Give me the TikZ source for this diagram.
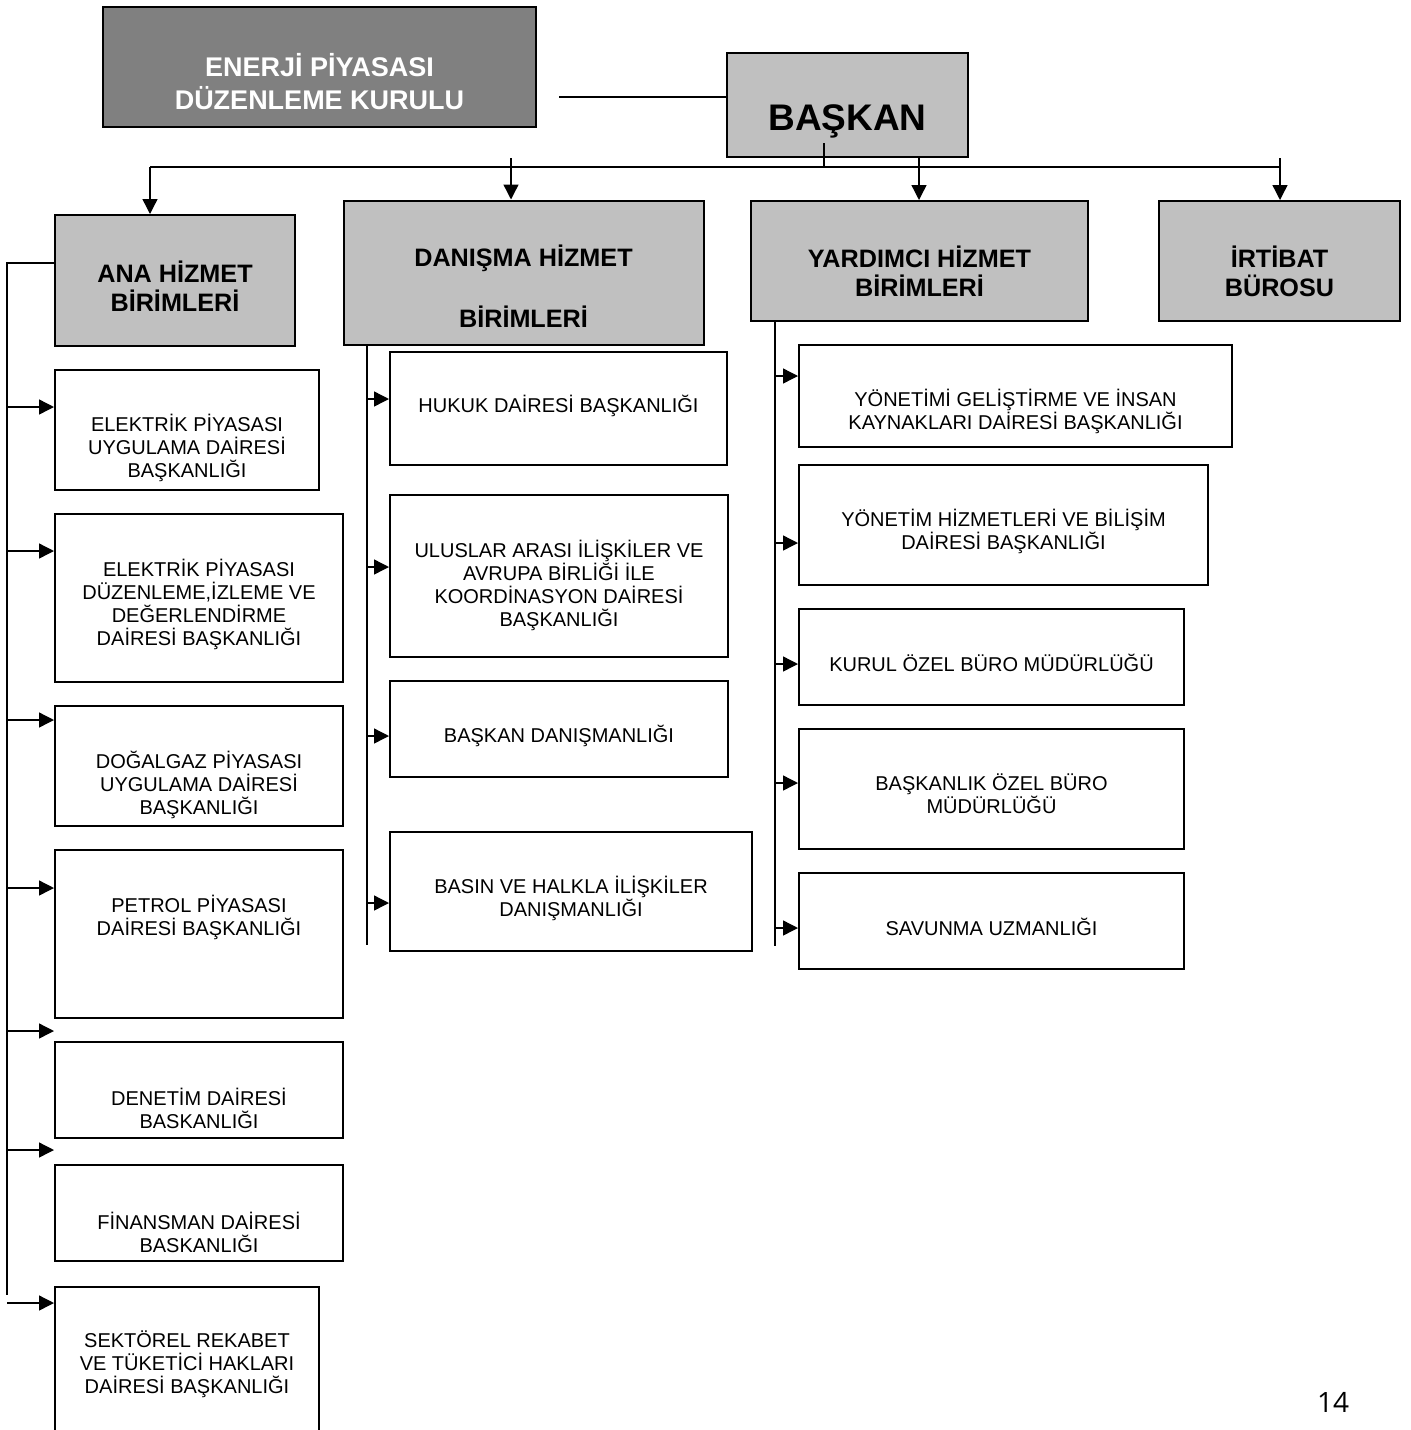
\documentclass[tikz,border=0pt]{standalone}
\usepackage{fontspec}
\setmainfont{Liberation Sans}
\newfontfamily\pagefont{Open Sans}
\usetikzlibrary{arrows.meta}
\definecolor{boxgrey}{RGB}{192,192,192}
\definecolor{titlegrey}{RGB}{128,128,128}

\begin{document}
\begin{tikzpicture}[x=0.5pt, y=-0.5pt,
  unitbox/.style={draw, line width=1pt, inner sep=0pt},
  headbox/.style={unitbox, fill=boxgrey},
  unittext/.style={align=center, inner sep=0pt, font=\fontsize{10}{11.5}\selectfont},
  headtext/.style={align=center, inner sep=0pt, font=\bfseries\fontsize{12.6}{14.5}\selectfont},
  link/.style={line width=0.7pt},
  arrow/.style={link, -{Triangle[length=7.5pt, width=7.5pt]}}]
\path [use as bounding box, clip] (0,0) rectangle (1411,1430);
\fill [white] (0,0) rectangle (1411,1430);

% kurul and baskan
\node (kurul) [unitbox, fill=titlegrey, minimum width=216.5pt, minimum height=60pt] at (319.5,67) {};
\node (kurultext) [align=center, inner sep=0pt, text=white, font=\bfseries\fontsize{13.5}{16.35}\selectfont] at (319.5,81.5) {ENERJİ PİYASASI\\DÜZENLEME KURULU};
\node (baskan) [headbox, minimum width=120.5pt, minimum height=52pt] at (847.5,105) {};
\node (baskantext) [inner sep=0pt, font=\bfseries\fontsize{18.5}{22}\selectfont] at (847.5,121) {BAŞKAN};

% main groups
\node (ana) [headbox, minimum width=120pt, minimum height=65.5pt] at (175,280.5) {};
\node (anatext) [headtext] at (175,286) {ANA HİZMET\\BİRİMLERİ};
\node (danisma) [headbox, minimum width=180pt, minimum height=72pt] at (523.5,272.5) {};
\node (danismatext) [headtext] at (523.5,286) {DANIŞMA HİZMET\\[16pt]BİRİMLERİ};
\node (yardimci) [headbox, minimum width=168.5pt, minimum height=60pt] at (919.5,261) {};
\node (yardimcitext) [headtext] at (919.5,271) {YARDIMCI HİZMET\\BİRİMLERİ};
\node (irtibat) [headbox, minimum width=120.5pt, minimum height=60pt] at (1279.5,261) {};
\node (irtibattext) [headtext] at (1279.5,271) {İRTİBAT\\BÜROSU};

% ana hizmet birimleri
\node (elek1) [unitbox, minimum width=132pt, minimum height=60pt] at (187,430) {};
\node (elek1text) [unittext] at (187,448) {ELEKTRİK PİYASASI\\UYGULAMA DAİRESİ\\BAŞKANLIĞI};
\node (elek2) [unitbox, minimum width=144pt, minimum height=84pt] at (199,598) {};
\node (elek2text) [unittext] at (199,604.5) {ELEKTRİK PİYASASI\\DÜZENLEME,İZLEME VE\\DEĞERLENDİRME\\DAİRESİ BAŞKANLIĞI};
\node (dogalgaz) [unitbox, minimum width=144pt, minimum height=60pt] at (199,766) {};
\node (dogalgaztext) [unittext] at (199,784.5) {DOĞALGAZ PİYASASI\\UYGULAMA DAİRESİ\\BAŞKANLIĞI};
\node (petrol) [unitbox, minimum width=144pt, minimum height=84pt] at (199,934) {};
\node (petroltext) [unittext] at (199,917) {PETROL PİYASASI\\DAİRESİ BAŞKANLIĞI};
\node (denetim) [unitbox, minimum width=144pt, minimum height=48pt] at (199,1090) {};
\node (denetimtext) [unittext] at (199,1108.5) {DENETİM DAİRESİ\\BASKANLIĞI};
\node (finansman) [unitbox, minimum width=144pt, minimum height=48pt] at (199,1213) {};
\node (finansmantext) [unittext] at (199,1232) {FİNANSMAN DAİRESİ\\BASKANLIĞI};
\node (sektorel) [unitbox, minimum width=132pt, minimum height=79pt] at (187,1366) {};
\node (sektoreltext) [unittext] at (187,1364) {SEKTÖREL REKABET\\VE TÜKETİCİ HAKLARI\\DAİRESİ BAŞKANLIĞI};

% danisma hizmet birimleri
\node (hukuk) [unitbox, minimum width=168.5pt, minimum height=56.5pt] at (558.5,408.5) {};
\node (hukuktext) [unittext] at (558.5,406) {HUKUK DAİRESİ BAŞKANLIĞI};
\node (uluslar) [unitbox, minimum width=169pt, minimum height=81pt] at (559,576) {};
\node (uluslartext) [unittext] at (559,585) {ULUSLAR ARASI İLİŞKİLER VE\\AVRUPA BİRLİĞİ İLE\\KOORDİNASYON DAİRESİ\\BAŞKANLIĞI};
\node (baskandan) [unitbox, minimum width=169pt, minimum height=48pt] at (559,729) {};
\node (baskandantext) [unittext] at (559,735.5) {BAŞKAN DANIŞMANLIĞI};
\node (basin) [unitbox, minimum width=181pt, minimum height=59.5pt] at (571,891.5) {};
\node (basintext) [unittext] at (571,898) {BASIN VE HALKLA İLİŞKİLER\\DANIŞMANLIĞI};

% yardimci hizmet birimleri
\node (yonetimgel) [unitbox, minimum width=216.5pt, minimum height=51pt] at (1015.5,396) {};
\node (yonetimgeltext) [unittext] at (1015.5,411) {YÖNETİMİ GELİŞTİRME VE İNSAN\\KAYNAKLARI DAİRESİ BAŞKANLIĞI};
\node (yonetimhiz) [unitbox, minimum width=204.5pt, minimum height=60pt] at (1003.5,525) {};
\node (yonetimhiztext) [unittext] at (1003.5,531) {YÖNETİM HİZMETLERİ VE BİLİŞİM\\DAİRESİ BAŞKANLIĞI};
\node (kurulburo) [unitbox, minimum width=192.5pt, minimum height=48pt] at (991.5,657) {};
\node (kurulburotext) [unittext] at (991.5,663) {KURUL ÖZEL BÜRO MÜDÜRLÜĞÜ};
\node (baskanlik) [unitbox, minimum width=192.5pt, minimum height=60pt] at (991.5,789) {};
\node (baskanliktext) [unittext] at (991.5,794) {BAŞKANLIK ÖZEL BÜRO\\MÜDÜRLÜĞÜ};
\node (savunma) [unitbox, minimum width=192.5pt, minimum height=48pt] at (991.5,921) {};
\node (savunmatext) [unittext] at (991.5,927) {SAVUNMA UZMANLIĞI};

\node (sayfa) [inner sep=0pt, font=\pagefont\fontsize{14}{16}\selectfont] at (1333,1402) {14};

% top links
\coordinate (kurullink) at (559,97);
\draw [link] (kurullink) -- (kurullink -| baskan.west);
\coordinate (baskanstub) at (824,143);
\coordinate (busleft) at (150,167);
\coordinate (busright) at (1280,167);
\draw [link] (baskanstub) -- (baskanstub |- busleft);
\draw [link] (busleft) -- (busright);
\draw [arrow] (busleft) -- (busleft |- ana.north);
\coordinate (danismastub) at (511,158);
\draw [arrow] (danismastub) -- (danismastub |- danisma.north);
\coordinate (yardimcistub) at (919,158);
\draw [arrow] (yardimcistub) -- (yardimcistub |- yardimci.north);
\coordinate (irtibatstub) at (1280,158);
\draw [arrow] (irtibatstub) -- (irtibatstub |- irtibat.north);

% ana spine
\coordinate (anatop) at (7,263);
\coordinate (anaend) at (7,1295);
\draw [link] (anatop -| ana.west) -- (anatop) -- (anaend);
\coordinate (ana1) at (7,407);
\coordinate (ana2) at (7,551);
\coordinate (ana3) at (7,720);
\coordinate (ana4) at (7,888);
\coordinate (ana5) at (7,1031);
\coordinate (ana6) at (7,1150);
\coordinate (ana7) at (7,1303);
\draw [arrow] (ana1) -- (ana1 -| elek1.west);
\draw [arrow] (ana2) -- (ana2 -| elek2.west);
\draw [arrow] (ana3) -- (ana3 -| dogalgaz.west);
\draw [arrow] (ana4) -- (ana4 -| petrol.west);
\draw [arrow] (ana5) -- (ana5 -| denetim.west);
\draw [arrow] (ana6) -- (ana6 -| finansman.west);
\draw [arrow] (ana7) -- (ana7 -| sektorel.west);

% danisma spine
\coordinate (danismaend) at (367,945);
\draw [link] (danismaend |- danisma.south) -- (danismaend);
\coordinate (danisma1) at (367,399);
\coordinate (danisma2) at (367,567);
\coordinate (danisma3) at (367,736);
\coordinate (danisma4) at (367,903);
\draw [arrow] (danisma1) -- (danisma1 -| hukuk.west);
\draw [arrow] (danisma2) -- (danisma2 -| uluslar.west);
\draw [arrow] (danisma3) -- (danisma3 -| baskandan.west);
\draw [arrow] (danisma4) -- (danisma4 -| basin.west);

% yardimci spine
\coordinate (yardimciend) at (775,945.5);
\draw [link] (yardimciend |- yardimci.south) -- (yardimciend);
\coordinate (yardimci1) at (775,376);
\coordinate (yardimci2) at (775,543);
\coordinate (yardimci3) at (775,664);
\coordinate (yardimci4) at (775,783);
\coordinate (yardimci5) at (775,928);
\draw [arrow] (yardimci1) -- (yardimci1 -| yonetimgel.west);
\draw [arrow] (yardimci2) -- (yardimci2 -| yonetimhiz.west);
\draw [arrow] (yardimci3) -- (yardimci3 -| kurulburo.west);
\draw [arrow] (yardimci4) -- (yardimci4 -| baskanlik.west);
\draw [arrow] (yardimci5) -- (yardimci5 -| savunma.west);
\end{tikzpicture}
\end{document}
